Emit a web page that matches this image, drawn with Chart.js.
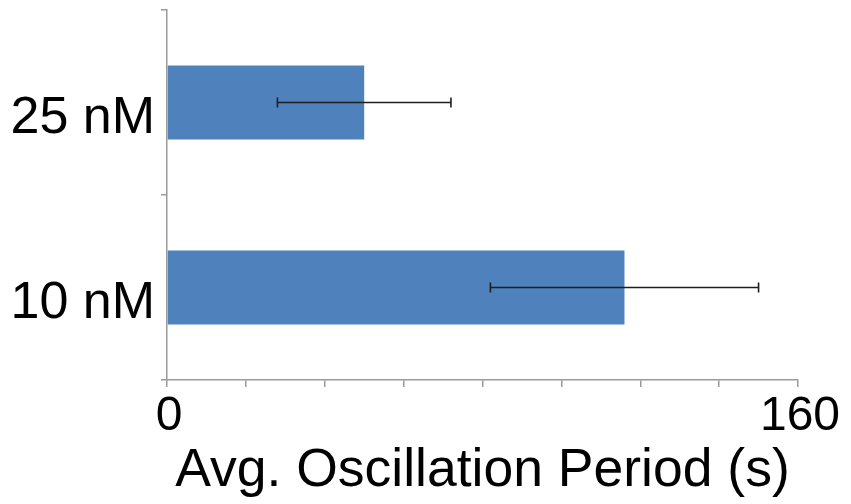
<!DOCTYPE html>
<html>
<head>
<meta charset="utf-8">
<script src="https://cdn.jsdelivr.net/npm/chart.js@4"></script>
<style>
  html, body { margin: 0; padding: 0; background: #ffffff; }
  #wrap { width: 851px; height: 504px; }
</style>
</head>
<body>
<div id="wrap"><canvas id="chart" width="851" height="504"></canvas></div>
<script>
// Concentrations and their mean oscillation periods (seconds) with error margins
const categories = ['25 nM', '10 nM'];
const periods = [50, 116];
const periodErrors = [22, 34];
const xAxisMin = 0;
const xAxisMax = 160;
const xAxisStep = 20;
const xTickLabels = [0, 160];
const xAxisTitle = 'Avg. Oscillation Period (s)';

const FONT = '"Liberation Sans", Arial, sans-serif';
const AXIS_GREY = '#9a9a9a';

// Horizontal error bars with end caps, placed via the chart's scales
const errorBars = {
  id: 'errorBars',
  afterDatasetsDraw(chart) {
    const meta = chart.getDatasetMeta(0);
    const xs = chart.scales.x;
    const ctx = chart.ctx;
    ctx.save();
    ctx.strokeStyle = '#1f1f1f';
    ctx.lineWidth = 1.6;
    meta.data.forEach((bar, i) => {
      const v = periods[i];
      const e = periodErrors[i];
      const x0 = xs.getPixelForValue(v - e);
      const x1 = xs.getPixelForValue(v + e);
      const y = bar.y;
      const cap = 5;
      ctx.beginPath();
      ctx.moveTo(x0, y); ctx.lineTo(x1, y);
      ctx.moveTo(x0, y - cap); ctx.lineTo(x0, y + cap);
      ctx.moveTo(x1, y - cap); ctx.lineTo(x1, y + cap);
      ctx.stroke();
    });
    ctx.restore();
  }
};

new Chart(document.getElementById('chart'), {
  type: 'bar',
  data: {
    labels: categories,
    datasets: [{
      data: periods,
      backgroundColor: '#4f81bd',
      borderWidth: 0,
      categoryPercentage: 1.0,
      barPercentage: 0.4
    }]
  },
  options: {
    indexAxis: 'y',
    responsive: false,
    animation: false,
    devicePixelRatio: 1,
    layout: { padding: { top: 10, right: 53, left: 0, bottom: 0 } },
    plugins: {
      legend: { display: false },
      tooltip: { enabled: false }
    },
    scales: {
      y: {
        type: 'category',
        offset: true,
        grid: {
          display: true,
          offset: true,
          drawOnChartArea: false,
          drawTicks: true,
          tickLength: 6,
          color: AXIS_GREY,
          lineWidth: 1.5
        },
        border: { display: true, color: AXIS_GREY, width: 1.5 },
        ticks: {
          color: '#000000',
          font: { family: FONT, size: 52 },
          padding: 6,
          labelOffset: 16
        },
        afterFit(scale) {
          scale.width = 167;
          scale.paddingTop = 0;
          scale.paddingBottom = 0;
        }
      },
      x: {
        type: 'linear',
        min: xAxisMin,
        max: xAxisMax,
        grid: {
          display: true,
          drawOnChartArea: false,
          drawTicks: true,
          tickLength: 7,
          color: AXIS_GREY,
          lineWidth: 1.5
        },
        border: { display: true, color: AXIS_GREY, width: 1.5 },
        ticks: {
          stepSize: xAxisStep,
          autoSkip: false,
          maxRotation: 0,
          color: '#000000',
          font: { family: FONT, size: 48 },
          padding: 1,
          labelOffset: 2,
          callback: (value) => (xTickLabels.includes(value) ? String(value) : '')
        },
        title: {
          display: true,
          text: xAxisTitle,
          color: '#000000',
          font: { family: FONT, size: 53.5 },
          padding: { top: 0, bottom: 1 }
        },
        afterFit(scale) { scale.height = 124; }
      }
    }
  },
  plugins: [errorBars]
});
</script>
</body>
</html>
